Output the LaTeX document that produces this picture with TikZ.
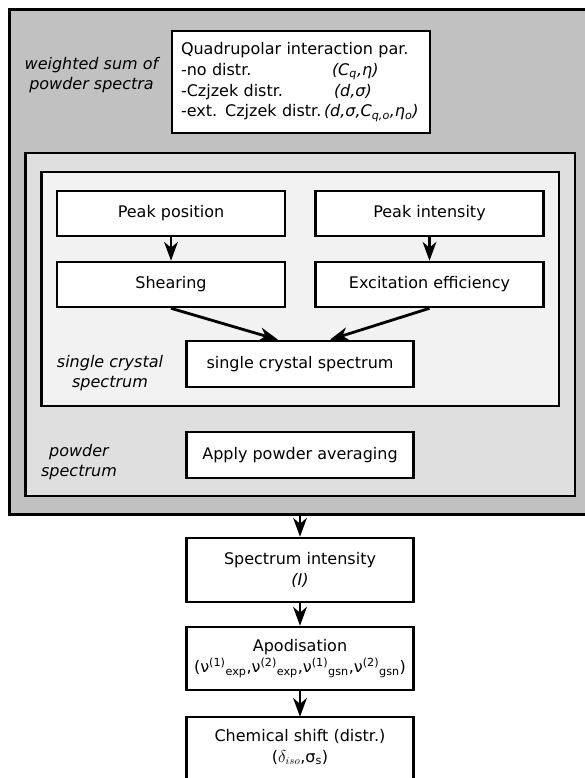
\documentclass[tikz,border=0pt]{standalone}
\usepackage{fontspec}
\setmainfont{DejaVu Sans}
\usetikzlibrary{arrows.meta}
\definecolor{outerg}{RGB}{193,193,193}
\definecolor{midg}{RGB}{223,223,223}
\definecolor{innerg}{RGB}{242,242,242}
\begin{document}
\begin{tikzpicture}[x=1pt,y=-1pt,
  every node/.style={font=\fontsize{16}{20.8}\selectfont},
  box/.style={draw=black, line width=2.6pt, fill=white, minimum width=228pt, align=center, inner sep=0pt},
  flow/.style={line width=2.8pt, -{Stealth[length=19pt,width=14pt,inset=6pt,line width=0pt]}},
  lbl/.style={align=center, font=\fontsize{16}{20.5}\selectfont\itshape},
  frame/.style={draw=black, line width=2.7pt}
]
\useasboundingbox (0,0) rectangle (584,778);

% containers
\draw[frame, line width=3pt, fill=outerg] (9.5,9.5) rectangle (600,514);
\draw[frame, fill=midg] (25.3,153) rectangle (575,496);
\draw[frame, fill=innerg] (41.5,172) rectangle (559,406);

% labels
\node[lbl] (lw) at (91.5,75) {weighted sum of\\powder spectra};
\node[lbl] (ls) at (110,373) {single crystal\\spectrum};
\node[lbl] (lp) at (79,462) {powder\\spectrum};

% quadrupolar box
\node[box, text width=240pt, align=left, inner xsep=9pt, minimum height=102pt] (quad) at (301,82)
  {Quadrupolar interaction par.\\
   \makebox[151pt][l]{-no distr.}\textit{(C\textsubscript{q},η)}\\
   \makebox[153pt][l]{-Czjzek distr.}\textit{(d,σ)}\\
   \makebox[143pt][l]{-ext. Czjzek distr.}\textit{(d,σ,C\textsubscript{q,o},η\textsubscript{o})}};

% single crystal part
\node[box, minimum height=45pt] (pp) at (171,213.5) {Peak position};
\node[box, minimum height=45pt] (pi) at (429.5,213.5) {Peak intensity};
\node[box, minimum height=45pt] (sh) at (171,284.5) {Shearing};
\node[box, minimum height=45pt] (ex) at (429.5,284.5) {Excitation efficiency};
\node[box, minimum width=227pt, minimum height=46pt] (sc) at (300,364) {single crystal spectrum};
\node[box, minimum width=227pt, minimum height=46pt] (ap) at (300,455) {Apply powder averaging};

% lower chain
\coordinate (ob) at (300,514);
\node[box, minimum width=227pt, minimum height=64pt] (si) at (300,570) {Spectrum intensity\\\textit{(I)}};
\node[box, minimum width=227pt, minimum height=63pt] (apo) at (300,658.5)
  {Apodisation\\(ν\textsuperscript{(1)}\textsubscript{exp},ν\textsuperscript{(2)}\textsubscript{exp},ν\textsuperscript{(1)}\textsubscript{gsn},ν\textsuperscript{(2)}\textsubscript{gsn})};
\draw[line width=2.6pt, fill=white] (186.5,717) rectangle (413.5,800);
\node[align=center, minimum width=227pt, minimum height=60pt, inner sep=0pt] (chem) at (300,747)
  {Chemical shift (distr.)\\($\delta_{iso}$,σ\textsubscript{s})};

% connectors
\draw[flow] (pp) -- (sh);
\draw[flow] (pi) -- (ex);
\draw[flow] (sh.south) -- ([xshift=-22pt]sc.north);
\draw[flow] (ex.south) -- ([xshift=30pt]sc.north);
\draw[flow] (ob) -- (si.north);
\draw[flow] (si) -- (apo);
\draw[flow] (apo) -- (chem.north);
\end{tikzpicture}
\end{document}
